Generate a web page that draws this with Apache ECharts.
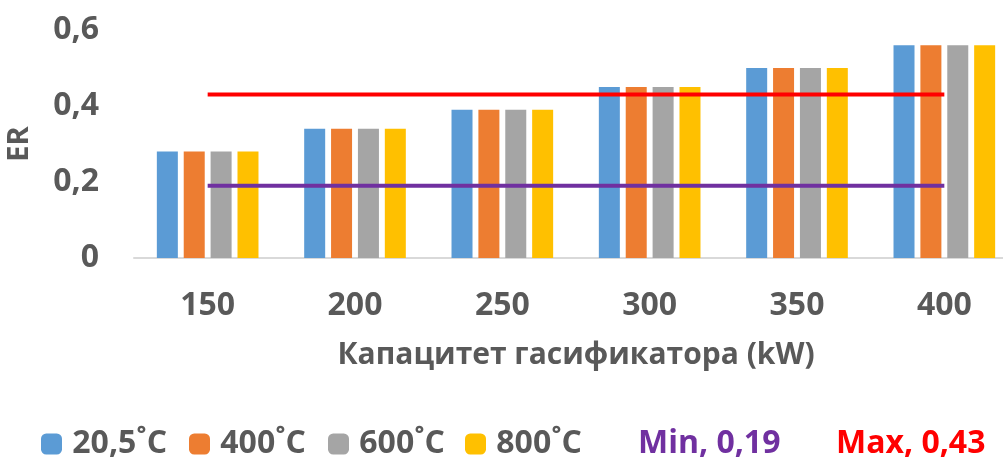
<!DOCTYPE html>
<html>
<head>
<meta charset="utf-8">
<script src="https://cdn.jsdelivr.net/npm/echarts@6/dist/echarts.min.js"></script>
<style>
  html, body { margin: 0; padding: 0; background: #ffffff; }
  #chart { width: 1003px; height: 460px; }
</style>
</head>
<body>
<div id="chart"></div>
<script>
// Gasifier capacity (kW) categories
const categories = ['150', '200', '250', '300', '350', '400'];

// ER per capacity for each inlet air temperature
const er205 = [0.28, 0.34, 0.39, 0.45, 0.50, 0.56];
const er400 = [0.28, 0.34, 0.39, 0.45, 0.50, 0.56];
const er600 = [0.28, 0.34, 0.39, 0.45, 0.50, 0.56];
const er800 = [0.28, 0.34, 0.39, 0.45, 0.50, 0.56];

// Reference limits
const minLimit = [0.19, 0.19, 0.19, 0.19, 0.19, 0.19];
const maxLimit = [0.43, 0.43, 0.43, 0.43, 0.43, 0.43];

const barNames = ['20,5˚C', '400˚C', '600˚C', '800˚C'];
const barColors = ['#5b9bd5', '#ed7d31', '#a5a5a5', '#ffc000'];
const barData = [er205, er400, er600, er800];

const FONT = '"Open Sans", "Noto Sans", sans-serif';
const GREY = '#595959';

const chart = echarts.init(document.getElementById('chart'), null, { renderer: 'canvas' });

const series = barData.map((d, i) => ({
  name: barNames[i],
  type: 'bar',
  data: d,
  barWidth: 21,
  barGap: '28%',
  itemStyle: { color: barColors[i] }
}));

series.push({
  name: 'Min, 0,19',
  type: 'line',
  data: minLimit,
  symbol: 'none',
  lineStyle: { color: '#7030a0', width: 4 },
  itemStyle: { color: '#7030a0' }
});
series.push({
  name: 'Max, 0,43',
  type: 'line',
  data: maxLimit,
  symbol: 'none',
  lineStyle: { color: '#ff0000', width: 4 },
  itemStyle: { color: '#ff0000' }
});

const legendText = { fontFamily: FONT, fontWeight: 'bold', fontSize: 32, color: GREY };
const legendPos = [41, 189, 328, 465];
const legends = barNames.map((n, i) => ({
  data: [n],
  left: legendPos[i],
  top: 428,
  itemWidth: 21,
  itemHeight: 21,
  itemGap: 0,
  padding: 0,
  formatter: name => '\u2009' + name,
  textStyle: legendText
}));
legends.push({
  data: [{ name: 'Min, 0,19', textStyle: { color: '#7030a0' } }],
  left: 632,
  top: 428,
  itemWidth: 0,
  itemHeight: 0,
  padding: 0,
  textStyle: legendText
});
legends.push({
  data: [{ name: 'Max, 0,43', textStyle: { color: '#ff0000' } }],
  left: 830,
  top: 428,
  itemWidth: 0,
  itemHeight: 0,
  padding: 0,
  textStyle: legendText
});

chart.setOption({
  animation: false,
  textStyle: { fontFamily: FONT },
  legend: legends,
  grid: { left: 134, top: 30, width: 884, height: 228, containLabel: false, outerBoundsMode: 'none' },
  xAxis: {
    type: 'category',
    data: categories,
    axisTick: { show: false },
    axisLine: { lineStyle: { color: '#d9d9d9', width: 2 } },
    axisLabel: { margin: 32, fontFamily: FONT, fontWeight: 'bold', fontSize: 32, color: GREY },
    name: 'Капацитет гасификатора (kW)',
    nameLocation: 'middle',
    nameGap: 82,
    nameTextStyle: { fontFamily: FONT, fontWeight: 'bold', fontSize: 30, color: GREY }
  },
  yAxis: {
    type: 'value',
    min: 0,
    max: 0.6,
    interval: 0.2,
    splitLine: { show: false },
    axisLine: { show: false },
    axisTick: { show: false },
    axisLabel: {
      margin: 35,
      fontFamily: FONT, fontWeight: 'bold', fontSize: 32, color: GREY,
      formatter: v => String(Math.round(v * 10) / 10).replace('.', ',')
    },
    name: 'ER',
    nameLocation: 'middle',
    nameGap: 100,
    nameTextStyle: { fontFamily: FONT, fontWeight: 'bold', fontSize: 29, color: GREY }
  },
  series: series
});
</script>
</body>
</html>
